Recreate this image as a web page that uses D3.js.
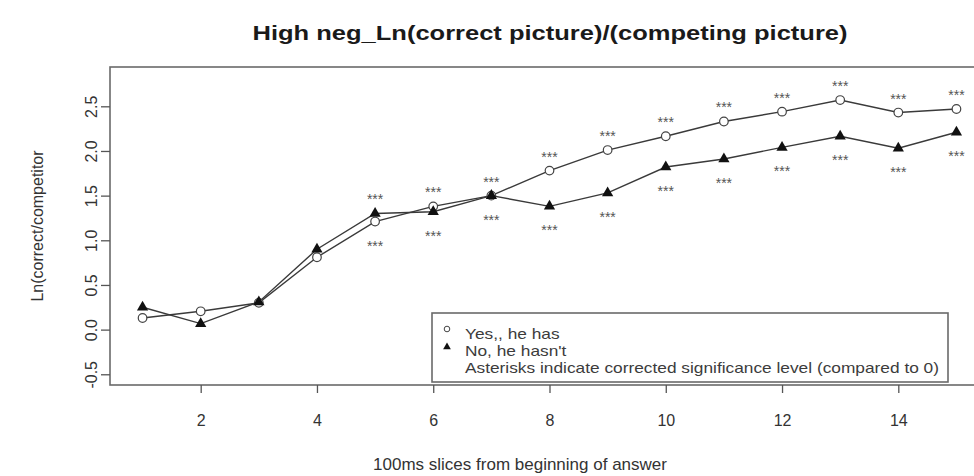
<!DOCTYPE html>
<html>
<head>
<meta charset="utf-8">
<script src="https://cdn.jsdelivr.net/npm/d3@7"></script>
<style>
  html, body { margin: 0; padding: 0; background: #fff; }
  svg text { font-family: "Liberation Sans", Arial, sans-serif; }
</style>
</head>
<body>
<div id="chart"></div>
<script>
let slices = [1,2,3,4,5,6,7,8,9,10,11,12,13,14,15];
let yesValues = [0.13,0.205,0.30,0.81,1.21,1.38,1.50,1.78,2.01,2.165,2.33,2.44,2.57,2.43,2.47];
let noValues  = [0.25,0.067,0.31,0.90,1.30,1.32,1.50,1.38,1.53,1.82,1.91,2.04,2.165,2.03,2.21];
let stars = ["","","","","***","***","***","***","***","***","***","***","***","***","***"];
let xTicks = [2,4,6,8,10,12,14];
let yTicks = [-0.5,0,0.5,1,1.5,2,2.5];
let yTickLabels = ["-0.5","0.0","0.5","1.0","1.5","2.0","2.5"];
let legendLabels = ["Yes,, he has", "No, he hasn't", "Asterisks indicate corrected  significance level (compared to 0)"];

function renderChart(){
  let width = 974,
    height = 476;

  let svg = d3.select("#chart")
    .append("svg")
    .attr("width", width)
    .attr("height", height)

  let x = d3.scaleLinear().domain([0.44, 15.56]).range([110, 989]),
      y = d3.scaleLinear().domain([-0.62, 2.94]).range([385, 67]);

  let yes = slices.map((s,i) => ({slice: s, v: yesValues[i]})),
      no = slices.map((s,i) => ({slice: s, v: noValues[i]}));

  // plot frame
  svg.append("rect")
    .attr("x", x.range()[0])
    .attr("y", y.range()[1])
    .attr("width", x.range()[1] - x.range()[0])
    .attr("height", y.range()[0] - y.range()[1])
    .attr("fill", "none")
    .attr("stroke", "#6a6a6a")
    .attr("stroke-width", 1.6)

  let xAxis = svg.append("g")
    .attr("transform", `translate(0,${y.range()[0]})`)
    .call(d3.axisBottom(x).tickValues(xTicks).tickSize(8).tickPadding(22).tickFormat(d3.format("d")))
  xAxis.select(".domain").remove()
  xAxis.selectAll("line").attr("stroke", "#555").attr("stroke-width", 1.3)
  xAxis.selectAll("text")
    .style("font-size", "16px")
    .attr("fill", "#333")

  let yAxis = svg.append("g")
    .attr("transform", `translate(${x.range()[0]},0)`)
    .call(d3.axisLeft(y).tickValues(yTicks).tickSize(9).tickFormat((d,i) => yTickLabels[i]))
  yAxis.select(".domain").remove()
  yAxis.selectAll("line").attr("stroke", "#555").attr("stroke-width", 1.3)
  yAxis.selectAll("text")
    .attr("transform", "rotate(-90)")
    .attr("x", 0)
    .attr("y", -13)
    .attr("dy", 0)
    .style("text-anchor", "middle")
    .style("font-size", "16px")
    .attr("fill", "#333")

  let line = d3.line().x(d => x(d.slice)).y(d => y(d.v));

  [yes, no].forEach(function(series){
    svg.append("path")
      .datum(series)
      .attr("d", line)
      .attr("fill", "none")
      .attr("stroke", "#3a3a3a")
      .attr("stroke-width", 1.4)
  })

  svg.append("g").selectAll("circle")
    .data(yes)
    .enter()
    .append("circle")
      .attr("cx", d => x(d.slice))
      .attr("cy", d => y(d.v))
      .attr("r", 4.3)
      .attr("fill", "#fff")
      .attr("stroke", "#444")
      .attr("stroke-width", 1.2)

  svg.append("g").selectAll("path")
    .data(no)
    .enter()
    .append("path")
      .attr("d", d3.symbol(d3.symbolTriangle).size(55))
      .attr("transform", d => `translate(${x(d.slice)},${y(d.v)})`)
      .attr("fill", "#111")

  // asterisks: above the higher series, below the lower one
  let starGroup = svg.append("g")
        .style("font-size", "14px")
        .attr("fill", "#555")
        .style("text-anchor", "middle")
  slices.forEach(function(s,i){
    if(stars[i] === "") return;
    let hi = Math.max(yesValues[i], noValues[i]),
        lo = Math.min(yesValues[i], noValues[i]);
    starGroup.append("text").attr("x", x(s)).attr("y", y(hi) - 9).text(stars[i])
    starGroup.append("text").attr("x", x(s)).attr("y", y(lo) + 29).text(stars[i])
  })

  // legend
  let legend = svg.append("g").attr("transform", "translate(432,313)")
  legend.append("rect")
    .attr("width", 516)
    .attr("height", 69)
    .attr("fill", "#fff")
    .attr("stroke", "#6a6a6a")
    .attr("stroke-width", 1.6)
  legend.append("circle")
    .attr("cx", 15).attr("cy", 16).attr("r", 2.8)
    .attr("fill", "#fff").attr("stroke", "#444").attr("stroke-width", 1)
  legend.append("path")
    .attr("d", d3.symbol(d3.symbolTriangle).size(26))
    .attr("transform", "translate(15,34)")
    .attr("fill", "#111")
  let legText = legend.selectAll("text.leg")
    .data(legendLabels)
    .enter()
    .append("text")
      .attr("class", "leg")
      .attr("x", 33)
      .attr("y", (d,i) => 26 + i*17)
      .style("font-size", "15px")
      .attr("fill", "#3c3c3c")
      .text(d => d)

  // stretch legend text horizontally so the long line fills the box
  let lens = [];
  legText.each(function(){ lens.push(this.getComputedTextLength()) })
  let stretch = 474 / lens[2];
  legText
    .attr("textLength", (d,i) => lens[i] * stretch)
    .attr("lengthAdjust", "spacingAndGlyphs")

  svg.append("text")
    .attr("x", 550)
    .attr("y", 40)
    .style("text-anchor", "middle")
    .style("font-size", "21px")
    .style("font-weight", "bold")
    .attr("fill", "#1a1a1a")
    .attr("textLength", 595)
    .attr("lengthAdjust", "spacingAndGlyphs")
    .text("High neg_Ln(correct picture)/(competing picture)")

  svg.append("text")
    .attr("x", 520)
    .attr("y", 470)
    .style("text-anchor", "middle")
    .style("font-size", "17px")
    .attr("fill", "#333")
    .text("100ms slices from beginning of answer")

  svg.append("text")
    .attr("transform", "translate(43,226) rotate(-90)")
    .style("text-anchor", "middle")
    .style("font-size", "16px")
    .attr("fill", "#333")
    .text("Ln(correct/competitor")
};

renderChart()
</script>
</body>
</html>
